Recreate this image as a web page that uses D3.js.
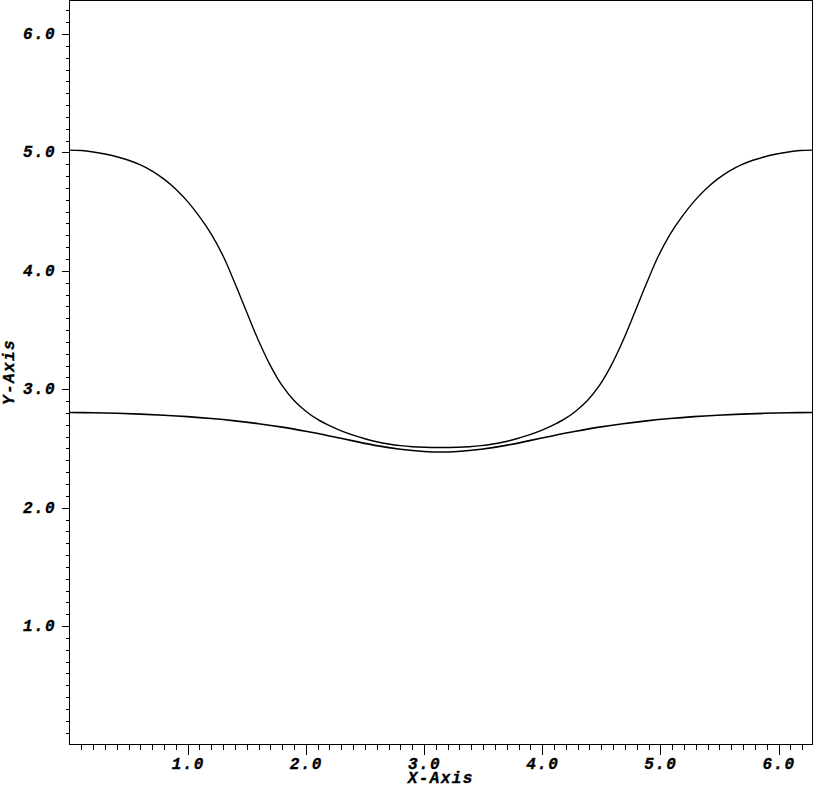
<!DOCTYPE html>
<html>
<head>
<meta charset="utf-8">
<script src="https://cdn.jsdelivr.net/npm/d3@7"></script>
<style>
  html, body { margin: 0; padding: 0; background: #fff; }
  svg { display: block; }
  text { font-family: "Liberation Mono", "DejaVu Sans Mono", monospace; font-weight: bold; font-style: italic; font-size: 16px; letter-spacing: 1.4px; fill: #000; stroke: #000; stroke-width: 0.35px; }
</style>
</head>
<body>
<script>
// ---- data ----
const upperX = [0, 0.1, 0.2, 0.3, 0.4, 0.5, 0.6, 0.7, 0.8, 0.9, 1.0, 1.1, 1.2, 1.3, 1.4, 1.5, 1.6, 1.7, 1.8, 1.9, 2.0, 2.1, 2.2, 2.3, 2.4, 2.5, 2.6, 2.7, 2.8, 2.9, 3.0, 3.1416,
                3.2832, 3.3832, 3.4832, 3.5832, 3.6832, 3.7832, 3.8832, 3.9832, 4.0832, 4.1832, 4.2832, 4.3832, 4.4832, 4.5832, 4.6832, 4.7832, 4.8832, 4.9832, 5.0832, 5.1832, 5.2832, 5.3832, 5.4832, 5.5832, 5.6832, 5.7832, 5.8832, 5.9832, 6.0832, 6.1832, 6.2832];
const upperY = [5.020, 5.016, 5.004, 4.987, 4.964, 4.934, 4.895, 4.843, 4.775, 4.690, 4.585, 4.458, 4.310, 4.125, 3.895, 3.650, 3.410, 3.200, 3.030, 2.905, 2.815, 2.745, 2.692, 2.648, 2.612, 2.582, 2.557, 2.538, 2.524, 2.515, 2.510, 2.508,
                2.510, 2.515, 2.524, 2.538, 2.557, 2.582, 2.612, 2.648, 2.692, 2.745, 2.815, 2.905, 3.030, 3.200, 3.410, 3.650, 3.895, 4.125, 4.310, 4.458, 4.585, 4.690, 4.775, 4.843, 4.895, 4.934, 4.964, 4.987, 5.004, 5.016, 5.020];
const lowerX = [0, 0.2, 0.4, 0.6, 0.8, 1.0, 1.2, 1.4, 1.6, 1.8, 2.0, 2.2, 2.4, 2.6, 2.8, 3.0, 3.1416,
                3.2832, 3.4832, 3.6832, 3.8832, 4.0832, 4.2832, 4.4832, 4.6832, 4.8832, 5.0832, 5.2832, 5.4832, 5.6832, 5.8832, 6.0832, 6.2832];
const lowerY = [2.804, 2.802, 2.797, 2.790, 2.781, 2.769, 2.753, 2.733, 2.709, 2.680, 2.645, 2.606, 2.564, 2.524, 2.494, 2.475, 2.470,
                2.475, 2.494, 2.524, 2.564, 2.606, 2.645, 2.680, 2.709, 2.733, 2.753, 2.769, 2.781, 2.790, 2.797, 2.802, 2.804];
const xMajor = [1, 2, 3, 4, 5, 6];
const yMajor = [1, 2, 3, 4, 5, 6];
const xLabel = "X-Axis";
const yLabel = "Y-Axis";
const domainMax = 6.2832;

// ---- layout ----
const W = 814, H = 789;
const pL = 69.5, pR = 812, pT = 0.5, pB = 744.5;

const svg = d3.select("body").append("svg").attr("width", W).attr("height", H);
const x = d3.scaleLinear().domain([0, domainMax]).range([pL, pR]);
const y = d3.scaleLinear().domain([0, domainMax]).range([pB, pT]);

const minor = d3.range(1, 63).map(i => i / 10).filter(v => Math.abs(v - Math.round(v)) > 1e-6);

// frame
svg.append("rect").attr("x", pL).attr("y", pT).attr("width", pR - pL).attr("height", pB - pT)
  .attr("fill", "none").attr("stroke", "#000").attr("stroke-width", 1).attr("shape-rendering", "crispEdges");

// x axis
const xAxis = svg.append("g").attr("shape-rendering", "crispEdges");
xAxis.selectAll("line.minor").data(minor).enter().append("line")
  .attr("x1", d => Math.round(x(d)) + 0.5).attr("x2", d => Math.round(x(d)) + 0.5)
  .attr("y1", pB).attr("y2", pB + 5).attr("stroke", "#000");
xAxis.selectAll("line.major").data(xMajor).enter().append("line")
  .attr("x1", d => Math.round(x(d)) + 0.5).attr("x2", d => Math.round(x(d)) + 0.5)
  .attr("y1", pB).attr("y2", pB + 10).attr("stroke", "#000");
svg.selectAll("text.xt").data(xMajor).enter().append("text")
  .attr("x", d => x(d) + 0.5).attr("y", 768.5).attr("text-anchor", "middle")
  .text(d => d.toFixed(1));

// y axis
const yAxis = svg.append("g").attr("shape-rendering", "crispEdges");
yAxis.selectAll("line.minor").data(minor).enter().append("line")
  .attr("y1", d => Math.round(y(d)) + 0.5).attr("y2", d => Math.round(y(d)) + 0.5)
  .attr("x1", pL - 4).attr("x2", pL).attr("stroke", "#000");
yAxis.selectAll("line.major").data(yMajor).enter().append("line")
  .attr("y1", d => Math.round(y(d)) + 0.5).attr("y2", d => Math.round(y(d)) + 0.5)
  .attr("x1", pL - 8).attr("x2", pL).attr("stroke", "#000");
svg.selectAll("text.yt").data(yMajor).enter().append("text")
  .attr("x", 56).attr("y", d => y(d) + 5).attr("text-anchor", "end")
  .text(d => d.toFixed(1));

// axis titles
svg.append("text").attr("x", (pL + pR) / 2).attr("y", 782.5).attr("text-anchor", "middle").text(xLabel);
svg.append("text").attr("transform", `translate(13.5,372) rotate(-90)`).attr("text-anchor", "middle").text(yLabel);

// curves
const line = d3.line().x(d => x(d[0])).y(d => y(d[1])).curve(d3.curveCatmullRom.alpha(0.5));
const upper = upperX.map((v, i) => [v, upperY[i]]);
const lower = lowerX.map((v, i) => [v, lowerY[i]]);
svg.append("path").datum(upper).attr("d", line).attr("fill", "none").attr("stroke", "#000").attr("stroke-width", 1.4);
svg.append("path").datum(lower).attr("d", line).attr("fill", "none").attr("stroke", "#000").attr("stroke-width", 1.6);
</script>
</body>
</html>
